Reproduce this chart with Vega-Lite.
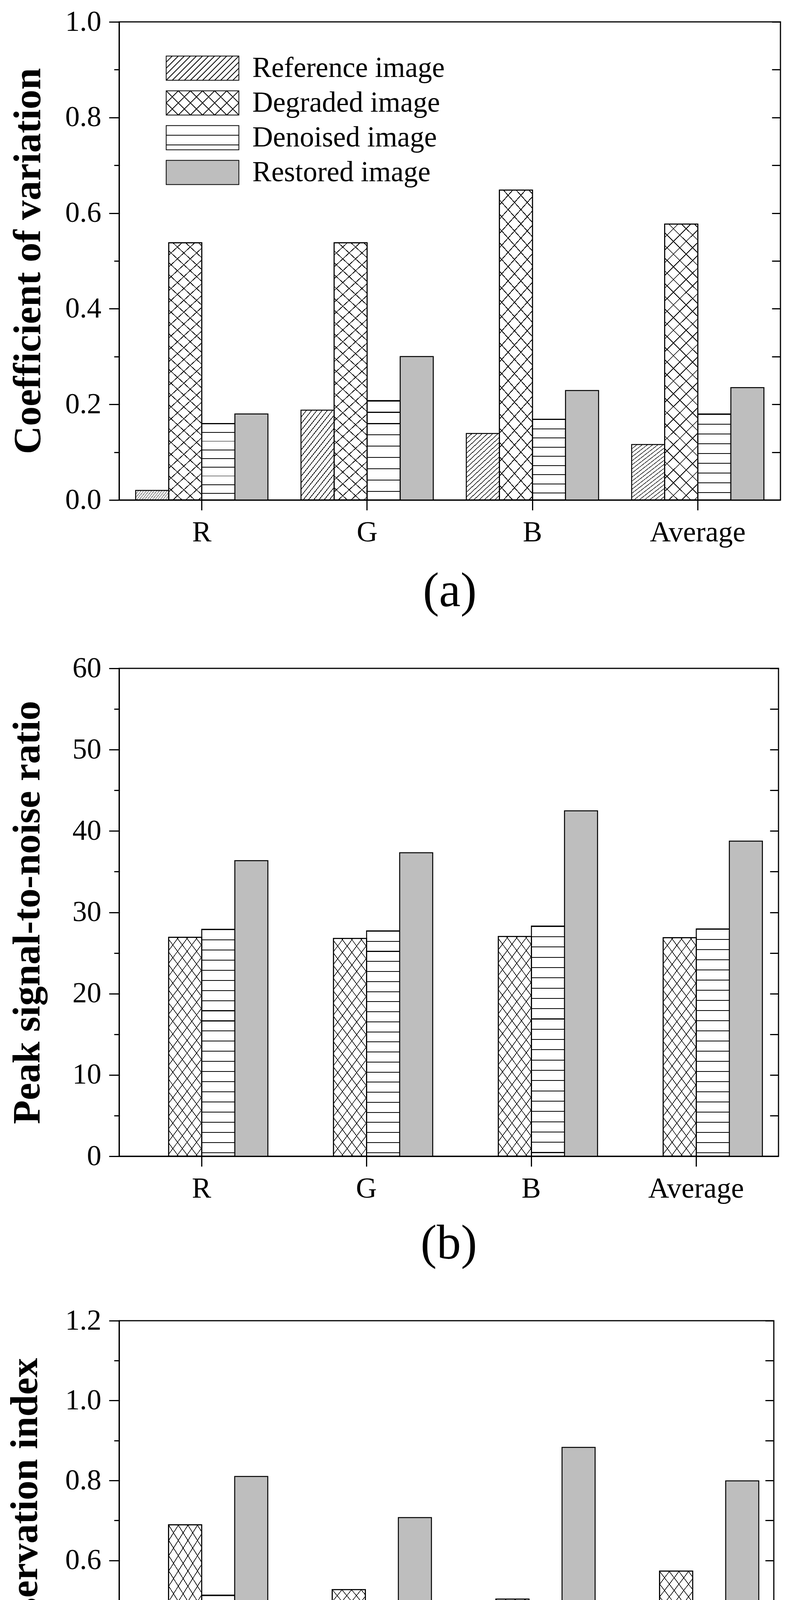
{
  "$schema": "https://vega.github.io/schema/vega-lite/v6.json",
  "background": "white",
  "padding": {"left": 13, "top": 17, "right": 5, "bottom": 5},
  "params": [
    {
      "name": "hatch",
      "value": [
        {"offset": 0, "color": "#000"}, {"offset": 0.0032, "color": "#000"}, {"offset": 0.0032, "color": "rgba(0,0,0,0)"}, {"offset": 0.04, "color": "rgba(0,0,0,0)"},
        {"offset": 0.04, "color": "#000"}, {"offset": 0.0432, "color": "#000"}, {"offset": 0.0432, "color": "rgba(0,0,0,0)"}, {"offset": 0.08, "color": "rgba(0,0,0,0)"},
        {"offset": 0.08, "color": "#000"}, {"offset": 0.0832, "color": "#000"}, {"offset": 0.0832, "color": "rgba(0,0,0,0)"}, {"offset": 0.12, "color": "rgba(0,0,0,0)"},
        {"offset": 0.12, "color": "#000"}, {"offset": 0.1232, "color": "#000"}, {"offset": 0.1232, "color": "rgba(0,0,0,0)"}, {"offset": 0.16, "color": "rgba(0,0,0,0)"},
        {"offset": 0.16, "color": "#000"}, {"offset": 0.1632, "color": "#000"}, {"offset": 0.1632, "color": "rgba(0,0,0,0)"}, {"offset": 0.2, "color": "rgba(0,0,0,0)"},
        {"offset": 0.2, "color": "#000"}, {"offset": 0.2032, "color": "#000"}, {"offset": 0.2032, "color": "rgba(0,0,0,0)"}, {"offset": 0.24, "color": "rgba(0,0,0,0)"},
        {"offset": 0.24, "color": "#000"}, {"offset": 0.2432, "color": "#000"}, {"offset": 0.2432, "color": "rgba(0,0,0,0)"}, {"offset": 0.28, "color": "rgba(0,0,0,0)"},
        {"offset": 0.28, "color": "#000"}, {"offset": 0.2832, "color": "#000"}, {"offset": 0.2832, "color": "rgba(0,0,0,0)"}, {"offset": 0.32, "color": "rgba(0,0,0,0)"},
        {"offset": 0.32, "color": "#000"}, {"offset": 0.3232, "color": "#000"}, {"offset": 0.3232, "color": "rgba(0,0,0,0)"}, {"offset": 0.36, "color": "rgba(0,0,0,0)"},
        {"offset": 0.36, "color": "#000"}, {"offset": 0.3632, "color": "#000"}, {"offset": 0.3632, "color": "rgba(0,0,0,0)"}, {"offset": 0.4, "color": "rgba(0,0,0,0)"},
        {"offset": 0.4, "color": "#000"}, {"offset": 0.4032, "color": "#000"}, {"offset": 0.4032, "color": "rgba(0,0,0,0)"}, {"offset": 0.44, "color": "rgba(0,0,0,0)"},
        {"offset": 0.44, "color": "#000"}, {"offset": 0.4432, "color": "#000"}, {"offset": 0.4432, "color": "rgba(0,0,0,0)"}, {"offset": 0.48, "color": "rgba(0,0,0,0)"},
        {"offset": 0.48, "color": "#000"}, {"offset": 0.4832, "color": "#000"}, {"offset": 0.4832, "color": "rgba(0,0,0,0)"}, {"offset": 0.52, "color": "rgba(0,0,0,0)"},
        {"offset": 0.52, "color": "#000"}, {"offset": 0.5232, "color": "#000"}, {"offset": 0.5232, "color": "rgba(0,0,0,0)"}, {"offset": 0.56, "color": "rgba(0,0,0,0)"},
        {"offset": 0.56, "color": "#000"}, {"offset": 0.5632, "color": "#000"}, {"offset": 0.5632, "color": "rgba(0,0,0,0)"}, {"offset": 0.6, "color": "rgba(0,0,0,0)"},
        {"offset": 0.6, "color": "#000"}, {"offset": 0.6032, "color": "#000"}, {"offset": 0.6032, "color": "rgba(0,0,0,0)"}, {"offset": 0.64, "color": "rgba(0,0,0,0)"},
        {"offset": 0.64, "color": "#000"}, {"offset": 0.6432, "color": "#000"}, {"offset": 0.6432, "color": "rgba(0,0,0,0)"}, {"offset": 0.68, "color": "rgba(0,0,0,0)"},
        {"offset": 0.68, "color": "#000"}, {"offset": 0.6832, "color": "#000"}, {"offset": 0.6832, "color": "rgba(0,0,0,0)"}, {"offset": 0.72, "color": "rgba(0,0,0,0)"},
        {"offset": 0.72, "color": "#000"}, {"offset": 0.7232, "color": "#000"}, {"offset": 0.7232, "color": "rgba(0,0,0,0)"}, {"offset": 0.76, "color": "rgba(0,0,0,0)"},
        {"offset": 0.76, "color": "#000"}, {"offset": 0.7632, "color": "#000"}, {"offset": 0.7632, "color": "rgba(0,0,0,0)"}, {"offset": 0.8, "color": "rgba(0,0,0,0)"},
        {"offset": 0.8, "color": "#000"}, {"offset": 0.8032, "color": "#000"}, {"offset": 0.8032, "color": "rgba(0,0,0,0)"}, {"offset": 0.84, "color": "rgba(0,0,0,0)"},
        {"offset": 0.84, "color": "#000"}, {"offset": 0.8432, "color": "#000"}, {"offset": 0.8432, "color": "rgba(0,0,0,0)"}, {"offset": 0.88, "color": "rgba(0,0,0,0)"},
        {"offset": 0.88, "color": "#000"}, {"offset": 0.8832, "color": "#000"}, {"offset": 0.8832, "color": "rgba(0,0,0,0)"}, {"offset": 0.92, "color": "rgba(0,0,0,0)"},
        {"offset": 0.92, "color": "#000"}, {"offset": 0.9232, "color": "#000"}, {"offset": 0.9232, "color": "rgba(0,0,0,0)"}, {"offset": 0.96, "color": "rgba(0,0,0,0)"},
        {"offset": 0.96, "color": "#000"}, {"offset": 0.9632, "color": "#000"}, {"offset": 0.9632, "color": "rgba(0,0,0,0)"}, {"offset": 1, "color": "rgba(0,0,0,0)"}
      ]
    },
    {
      "name": "fine",
      "value": [
        {"offset": 0, "color": "#000"}, {"offset": 0.008, "color": "#000"}, {"offset": 0.008, "color": "rgba(0,0,0,0)"}, {"offset": 0.05, "color": "rgba(0,0,0,0)"},
        {"offset": 0.05, "color": "#000"}, {"offset": 0.058, "color": "#000"}, {"offset": 0.058, "color": "rgba(0,0,0,0)"}, {"offset": 0.1, "color": "rgba(0,0,0,0)"},
        {"offset": 0.1, "color": "#000"}, {"offset": 0.108, "color": "#000"}, {"offset": 0.108, "color": "rgba(0,0,0,0)"}, {"offset": 0.15, "color": "rgba(0,0,0,0)"},
        {"offset": 0.15, "color": "#000"}, {"offset": 0.158, "color": "#000"}, {"offset": 0.158, "color": "rgba(0,0,0,0)"}, {"offset": 0.2, "color": "rgba(0,0,0,0)"},
        {"offset": 0.2, "color": "#000"}, {"offset": 0.208, "color": "#000"}, {"offset": 0.208, "color": "rgba(0,0,0,0)"}, {"offset": 0.25, "color": "rgba(0,0,0,0)"},
        {"offset": 0.25, "color": "#000"}, {"offset": 0.258, "color": "#000"}, {"offset": 0.258, "color": "rgba(0,0,0,0)"}, {"offset": 0.3, "color": "rgba(0,0,0,0)"},
        {"offset": 0.3, "color": "#000"}, {"offset": 0.308, "color": "#000"}, {"offset": 0.308, "color": "rgba(0,0,0,0)"}, {"offset": 0.35, "color": "rgba(0,0,0,0)"},
        {"offset": 0.35, "color": "#000"}, {"offset": 0.358, "color": "#000"}, {"offset": 0.358, "color": "rgba(0,0,0,0)"}, {"offset": 0.4, "color": "rgba(0,0,0,0)"},
        {"offset": 0.4, "color": "#000"}, {"offset": 0.408, "color": "#000"}, {"offset": 0.408, "color": "rgba(0,0,0,0)"}, {"offset": 0.45, "color": "rgba(0,0,0,0)"},
        {"offset": 0.45, "color": "#000"}, {"offset": 0.458, "color": "#000"}, {"offset": 0.458, "color": "rgba(0,0,0,0)"}, {"offset": 0.5, "color": "rgba(0,0,0,0)"},
        {"offset": 0.5, "color": "#000"}, {"offset": 0.508, "color": "#000"}, {"offset": 0.508, "color": "rgba(0,0,0,0)"}, {"offset": 0.55, "color": "rgba(0,0,0,0)"},
        {"offset": 0.55, "color": "#000"}, {"offset": 0.558, "color": "#000"}, {"offset": 0.558, "color": "rgba(0,0,0,0)"}, {"offset": 0.6, "color": "rgba(0,0,0,0)"},
        {"offset": 0.6, "color": "#000"}, {"offset": 0.608, "color": "#000"}, {"offset": 0.608, "color": "rgba(0,0,0,0)"}, {"offset": 0.65, "color": "rgba(0,0,0,0)"},
        {"offset": 0.65, "color": "#000"}, {"offset": 0.658, "color": "#000"}, {"offset": 0.658, "color": "rgba(0,0,0,0)"}, {"offset": 0.7, "color": "rgba(0,0,0,0)"},
        {"offset": 0.7, "color": "#000"}, {"offset": 0.708, "color": "#000"}, {"offset": 0.708, "color": "rgba(0,0,0,0)"}, {"offset": 0.75, "color": "rgba(0,0,0,0)"},
        {"offset": 0.75, "color": "#000"}, {"offset": 0.758, "color": "#000"}, {"offset": 0.758, "color": "rgba(0,0,0,0)"}, {"offset": 0.8, "color": "rgba(0,0,0,0)"},
        {"offset": 0.8, "color": "#000"}, {"offset": 0.808, "color": "#000"}, {"offset": 0.808, "color": "rgba(0,0,0,0)"}, {"offset": 0.85, "color": "rgba(0,0,0,0)"},
        {"offset": 0.85, "color": "#000"}, {"offset": 0.858, "color": "#000"}, {"offset": 0.858, "color": "rgba(0,0,0,0)"}, {"offset": 0.9, "color": "rgba(0,0,0,0)"},
        {"offset": 0.9, "color": "#000"}, {"offset": 0.908, "color": "#000"}, {"offset": 0.908, "color": "rgba(0,0,0,0)"}, {"offset": 0.95, "color": "rgba(0,0,0,0)"},
        {"offset": 0.95, "color": "#000"}, {"offset": 0.958, "color": "#000"}, {"offset": 0.958, "color": "rgba(0,0,0,0)"}, {"offset": 1, "color": "rgba(0,0,0,0)"}
      ]
    }
  ],
  "concat": [
    {
      "width": 1693,
      "height": 1224,
      "title": {"text": "(a)", "offset": 54, "font": "Liberation Serif"},
      "data": {
        "values": [
          {"cat": "R", "series": "Reference image", "value": 0.02},
          {"cat": "R", "series": "Degraded image", "value": 0.538},
          {"cat": "R", "series": "Denoised image", "value": 0.16},
          {"cat": "R", "series": "Restored image", "value": 0.18},
          {"cat": "G", "series": "Reference image", "value": 0.188},
          {"cat": "G", "series": "Degraded image", "value": 0.538},
          {"cat": "G", "series": "Denoised image", "value": 0.208},
          {"cat": "G", "series": "Restored image", "value": 0.3},
          {"cat": "B", "series": "Reference image", "value": 0.139},
          {"cat": "B", "series": "Degraded image", "value": 0.648},
          {"cat": "B", "series": "Denoised image", "value": 0.169},
          {"cat": "B", "series": "Restored image", "value": 0.229},
          {"cat": "Average", "series": "Reference image", "value": 0.116},
          {"cat": "Average", "series": "Degraded image", "value": 0.577},
          {"cat": "Average", "series": "Denoised image", "value": 0.18},
          {"cat": "Average", "series": "Restored image", "value": 0.235}
        ]
      },
      "encoding": {
        "x": {
          "field": "cat", "type": "nominal", "sort": ["R", "G", "B", "Average"],
          "scale": {"paddingInner": 0.2, "paddingOuter": 0.1},
          "axis": {"title": null, "labelAngle": 0, "grid": true, "gridDash": [0, 1198, 26]}
        },
        "xOffset": {
          "field": "series", "type": "nominal",
          "sort": ["Reference image", "Degraded image", "Denoised image", "Restored image"],
          "scale": {"paddingInner": 0, "paddingOuter": 0}
        },
        "y": {
          "field": "value", "type": "quantitative",
          "scale": {"domain": [0, 1], "nice": false},
          "axis": {
            "title": "Coefficient of variation",
            "titlePadding": 43,
            "values": [0, 0.1, 0.2, 0.3, 0.4, 0.5, 0.6, 0.7, 0.8, 0.9, 1],
            "labelExpr": "round(datum.value * 10) % 2 === 0 ? format(datum.value, '.1f') : ''",
            "tickSize": {"condition": {"test": "round(datum.value * 10) % 2 === 0", "value": 26}, "value": 13},
            "grid": true,
            "gridDash": [0, 1671, 22]
          }
        }
      },
      "layer": [
        {
          "transform": [{"filter": "datum.series === 'Reference image'"}],
          "mark": {"type": "bar", "stroke": "black", "strokeWidth": 2.5,
            "fill": {"expr": "{gradient: 'linear', x1: 0, y1: 0, x2: 0.556, y2: 1.205, stops: fine}"}}
        },
        {
          "transform": [{"filter": "datum.series === 'Degraded image'"}],
          "mark": {"type": "bar", "stroke": "black", "strokeWidth": 2.5,
            "fill": {"expr": "{gradient: 'linear', x1: 0, y1: 0, x2: 0.1353, y2: 1.135, stops: hatch}"}}
        },
        {
          "transform": [{"filter": "datum.series === 'Degraded image'"}],
          "mark": {"type": "bar", "stroke": "black", "strokeWidth": 2.5,
            "fill": {"expr": "{gradient: 'linear', x1: 0, y1: 1, x2: 0.1353, y2: -0.135, stops: hatch}"}}
        },
        {
          "transform": [{"filter": "datum.series === 'Denoised image'"}],
          "mark": {"type": "bar", "stroke": "black", "strokeWidth": 2.5,
            "fill": {"expr": "{gradient: 'linear', x1: 0, y1: 0, x2: 0, y2: 2.84, stops: hatch}"}}
        },
        {
          "transform": [{"filter": "datum.series === 'Restored image'"}],
          "mark": {"type": "bar", "stroke": "black", "strokeWidth": 2.5, "fill": "#bebebe"}
        },
        {
          "transform": [{"filter": "false"}],
          "mark": {"type": "point", "filled": true, "opacity": 1, "strokeWidth": 2},
          "encoding": {
            "shape": {
              "field": "series", "type": "nominal",
              "scale": {
                "domain": ["Reference image", "Degraded image", "Denoised image", "Restored image"],
                "range": [
                  "M-3,-1H3V1H-3Z M-3,-0.5L-2.5,-1 M-3,0L-2,-1 M-3,0.5L-1.5,-1 M-3,1L-1,-1 M-2.5,1L-0.5,-1 M-2,1L0,-1 M-1.5,1L0.5,-1 M-1,1L1,-1 M-0.5,1L1.5,-1 M0,1L2,-1 M0.5,1L2.5,-1 M1,1L3,-1 M1.5,1L3,-0.5 M2,1L3,0 M2.5,1L3,0.5",
                  "M-3,-1H3V1H-3Z M-3,0L-2,-1 M-3,1L-1,-1 M-2,1L0,-1 M-1,1L1,-1 M0,1L2,-1 M1,1L3,-1 M2,1L3,0 M-3,0L-2,1 M-3,-1L-1,1 M-2,-1L0,1 M-1,-1L1,1 M0,-1L2,1 M1,-1L3,1 M2,-1L3,0",
                  "M-3,-1H3V1H-3Z M-3,-0.2H3 M-3,0.6H3",
                  "M-3,-1H3V1H-3Z"
                ]
              },
              "legend": {"orient": "none", "legendX": 177, "legendY": 82, "title": null}
            },
            "fill": {
              "field": "series", "type": "nominal",
              "scale": {
                "domain": ["Reference image", "Degraded image", "Denoised image", "Restored image"],
                "range": ["white", "white", "white", "#bebebe"]
              },
              "legend": {"orient": "none", "legendX": 177, "legendY": 82, "title": null}
            },
            "stroke": {
              "field": "series", "type": "nominal",
              "scale": {
                "domain": ["Reference image", "Degraded image", "Denoised image", "Restored image"],
                "range": ["black", "black", "black", "black"]
              },
              "legend": {"orient": "none", "legendX": 177, "legendY": 82, "title": null}
            }
          }
        }
      ]
    },
    {
      "width": 1688,
      "height": 1249,
      "title": {"text": "(b)", "offset": 44, "font": "Liberation Serif"},
      "data": {
        "values": [
          {"cat": "R", "series": "Degraded image", "value": 26.93},
          {"cat": "R", "series": "Denoised image", "value": 27.91},
          {"cat": "R", "series": "Restored image", "value": 36.35},
          {"cat": "G", "series": "Degraded image", "value": 26.79},
          {"cat": "G", "series": "Denoised image", "value": 27.72},
          {"cat": "G", "series": "Restored image", "value": 37.33},
          {"cat": "B", "series": "Degraded image", "value": 27.03},
          {"cat": "B", "series": "Denoised image", "value": 28.31},
          {"cat": "B", "series": "Restored image", "value": 42.48},
          {"cat": "Average", "series": "Degraded image", "value": 26.88},
          {"cat": "Average", "series": "Denoised image", "value": 27.96},
          {"cat": "Average", "series": "Restored image", "value": 38.76}
        ]
      },
      "encoding": {
        "x": {
          "field": "cat", "type": "nominal", "sort": ["R", "G", "B", "Average"],
          "scale": {"paddingInner": 0.2, "paddingOuter": 0.1},
          "axis": {"title": null, "labelAngle": 0, "grid": true, "gridDash": [0, 1223, 26]}
        },
        "xOffset": {
          "field": "series", "type": "nominal",
          "sort": ["Degraded image", "Denoised image", "Restored image"],
          "scale": {"paddingInner": 0, "paddingOuter": 0}
        },
        "y": {
          "field": "value", "type": "quantitative",
          "scale": {"domain": [0, 60], "nice": false},
          "axis": {
            "title": "Peak signal-to-noise ratio",
            "titlePadding": 64,
            "values": [0, 5, 10, 15, 20, 25, 30, 35, 40, 45, 50, 55, 60],
            "labelExpr": "round(datum.value) % 10 === 0 ? format(datum.value, 'd') : ''",
            "tickSize": {"condition": {"test": "round(datum.value) % 10 === 0", "value": 26}, "value": 13},
            "grid": true,
            "gridDash": [0, 1666, 22]
          }
        }
      },
      "layer": [
        {
          "transform": [{"filter": "datum.series === 'Degraded image'"}],
          "mark": {"type": "bar", "stroke": "black", "strokeWidth": 2.5,
            "fill": {"expr": "{gradient: 'linear', x1: 0, y1: 0, x2: 0.2826, y2: 1.3956, stops: hatch}"}}
        },
        {
          "transform": [{"filter": "datum.series === 'Degraded image'"}],
          "mark": {"type": "bar", "stroke": "black", "strokeWidth": 2.5,
            "fill": {"expr": "{gradient: 'linear', x1: 0, y1: 1, x2: 0.2826, y2: -0.3956, stops: hatch}"}}
        },
        {
          "transform": [{"filter": "datum.series === 'Denoised image'"}],
          "mark": {"type": "bar", "stroke": "black", "strokeWidth": 2.5,
            "fill": {"expr": "{gradient: 'linear', x1: 0, y1: 0, x2: 0, y2: 1.116, stops: hatch}"}}
        },
        {
          "transform": [{"filter": "datum.series === 'Restored image'"}],
          "mark": {"type": "bar", "stroke": "black", "strokeWidth": 2.5, "fill": "#bebebe"}
        },
        {
          "transform": [{"filter": "false"}],
          "mark": {"type": "point", "filled": true, "opacity": 1, "strokeWidth": 2},
          "encoding": {
            "shape": {
              "field": "series", "type": "nominal",
              "scale": {
                "domain": ["Degraded image", "Denoised image", "Restored image"],
                "range": [
                  "M-3,-1H3V1H-3Z M-3,0L-2,-1 M-3,1L-1,-1 M-2,1L0,-1 M-1,1L1,-1 M0,1L2,-1 M1,1L3,-1 M2,1L3,0 M-3,0L-2,1 M-3,-1L-1,1 M-2,-1L0,1 M-1,-1L1,1 M0,-1L2,1 M1,-1L3,1 M2,-1L3,0",
                  "M-3,-1H3V1H-3Z M-3,-0.2H3 M-3,0.6H3",
                  "M-3,-1H3V1H-3Z"
                ]
              },
              "legend": {"orient": "none", "legendX": 152, "legendY": 83, "title": null}
            },
            "fill": {
              "field": "series", "type": "nominal",
              "scale": {
                "domain": ["Degraded image", "Denoised image", "Restored image"],
                "range": ["white", "white", "#bebebe"]
              },
              "legend": {"orient": "none", "legendX": 152, "legendY": 83, "title": null}
            },
            "stroke": {
              "field": "series", "type": "nominal",
              "scale": {
                "domain": ["Degraded image", "Denoised image", "Restored image"],
                "range": ["black", "black", "black"]
              },
              "legend": {"orient": "none", "legendX": 152, "legendY": 83, "title": null}
            }
          }
        }
      ]
    },
    {
      "width": 1676,
      "height": 1227,
      "title": {"text": "(c)", "offset": 50, "font": "Liberation Serif"},
      "data": {
        "values": [
          {"cat": "R", "series": "Degraded image", "value": 0.689},
          {"cat": "R", "series": "Denoised image", "value": 0.513},
          {"cat": "R", "series": "Restored image", "value": 0.81},
          {"cat": "G", "series": "Degraded image", "value": 0.527},
          {"cat": "G", "series": "Denoised image", "value": 0.473},
          {"cat": "G", "series": "Restored image", "value": 0.707},
          {"cat": "B", "series": "Degraded image", "value": 0.503},
          {"cat": "B", "series": "Denoised image", "value": 0.451},
          {"cat": "B", "series": "Restored image", "value": 0.883},
          {"cat": "Average", "series": "Degraded image", "value": 0.573},
          {"cat": "Average", "series": "Denoised image", "value": 0.479},
          {"cat": "Average", "series": "Restored image", "value": 0.799}
        ]
      },
      "encoding": {
        "x": {
          "field": "cat", "type": "nominal", "sort": ["R", "G", "B", "Average"],
          "scale": {"paddingInner": 0.2, "paddingOuter": 0.1},
          "axis": {"title": null, "labelAngle": 0, "grid": true, "gridDash": [0, 1201, 26]}
        },
        "xOffset": {
          "field": "series", "type": "nominal",
          "sort": ["Degraded image", "Denoised image", "Restored image"],
          "scale": {"paddingInner": 0, "paddingOuter": 0}
        },
        "y": {
          "field": "value", "type": "quantitative",
          "scale": {"domain": [0, 1.2], "nice": false},
          "axis": {
            "title": "Edge preservation index",
            "titlePadding": 51,
            "values": [0, 0.1, 0.2, 0.3, 0.4, 0.5, 0.6, 0.7, 0.8, 0.9, 1, 1.1, 1.2],
            "labelExpr": "round(datum.value * 10) % 2 === 0 ? format(datum.value, '.1f') : ''",
            "tickSize": {"condition": {"test": "round(datum.value * 10) % 2 === 0", "value": 26}, "value": 13},
            "grid": true,
            "gridDash": [0, 1654, 22]
          }
        }
      },
      "layer": [
        {
          "transform": [{"filter": "datum.series === 'Degraded image'"}],
          "mark": {"type": "bar", "stroke": "black", "strokeWidth": 2.5,
            "fill": {"expr": "{gradient: 'linear', x1: 0, y1: 0, x2: 0.255, y2: 1.3363, stops: hatch}"}}
        },
        {
          "transform": [{"filter": "datum.series === 'Degraded image'"}],
          "mark": {"type": "bar", "stroke": "black", "strokeWidth": 2.5,
            "fill": {"expr": "{gradient: 'linear', x1: 0, y1: 1, x2: 0.255, y2: -0.3363, stops: hatch}"}}
        },
        {
          "transform": [{"filter": "datum.series === 'Denoised image'"}],
          "mark": {"type": "bar", "stroke": "black", "strokeWidth": 2.5,
            "fill": {"expr": "{gradient: 'linear', x1: 0, y1: 0, x2: 0, y2: 1.25, stops: hatch}"}}
        },
        {
          "transform": [{"filter": "datum.series === 'Restored image'"}],
          "mark": {"type": "bar", "stroke": "black", "strokeWidth": 2.5, "fill": "#bebebe"}
        },
        {
          "transform": [{"filter": "false"}],
          "mark": {"type": "point", "filled": true, "opacity": 1, "strokeWidth": 2},
          "encoding": {
            "shape": {
              "field": "series", "type": "nominal",
              "scale": {
                "domain": ["Degraded image", "Denoised image", "Restored image"],
                "range": [
                  "M-3,-1H3V1H-3Z M-3,0L-2,-1 M-3,1L-1,-1 M-2,1L0,-1 M-1,1L1,-1 M0,1L2,-1 M1,1L3,-1 M2,1L3,0 M-3,0L-2,1 M-3,-1L-1,1 M-2,-1L0,1 M-1,-1L1,1 M0,-1L2,1 M1,-1L3,1 M2,-1L3,0",
                  "M-3,-1H3V1H-3Z M-3,-0.2H3 M-3,0.6H3",
                  "M-3,-1H3V1H-3Z"
                ]
              },
              "legend": {"orient": "none", "legendX": 160, "legendY": 81, "title": null}
            },
            "fill": {
              "field": "series", "type": "nominal",
              "scale": {
                "domain": ["Degraded image", "Denoised image", "Restored image"],
                "range": ["white", "white", "#bebebe"]
              },
              "legend": {"orient": "none", "legendX": 160, "legendY": 81, "title": null}
            },
            "stroke": {
              "field": "series", "type": "nominal",
              "scale": {
                "domain": ["Degraded image", "Denoised image", "Restored image"],
                "range": ["black", "black", "black"]
              },
              "legend": {"orient": "none", "legendX": 160, "legendY": 81, "title": null}
            }
          }
        }
      ]
    }
  ],
  "columns": 1,
  "spacing": 93,
  "config": {
    "font": "Liberation Serif",
    "view": {"stroke": "black", "strokeWidth": 3},
    "axis": {
      "labelFont": "Liberation Serif",
      "labelFontSize": 74,
      "labelColor": "black",
      "titleFont": "Liberation Serif",
      "titleFontSize": 100,
      "titleFontWeight": "bold",
      "titleColor": "black",
      "domainColor": "black",
      "domainWidth": 3,
      "tickColor": "black",
      "tickWidth": 3,
      "gridColor": "black",
      "gridWidth": 3,
      "gridOpacity": 1
    },
    "axisX": {"tickSize": 26, "labelPadding": 21, "labelLimit": 0},
    "axisY": {"labelPadding": 20, "labelOverlap": false, "labelFlush": false},
    "legend": {
      "labelFont": "Liberation Serif",
      "labelFontSize": 73,
      "labelColor": "black",
      "labelLimit": 0,
      "labelOffset": 91,
      "symbolSize": 3844,
      "symbolStrokeColor": "black",
      "symbolStrokeWidth": 2,
      "symbolOpacity": 1,
      "rowPadding": 15,
      "padding": 0
    },
    "title": {
      "font": "Liberation Serif",
      "fontSize": 124,
      "fontWeight": "normal",
      "color": "black",
      "orient": "bottom",
      "anchor": "middle"
    }
  }
}
